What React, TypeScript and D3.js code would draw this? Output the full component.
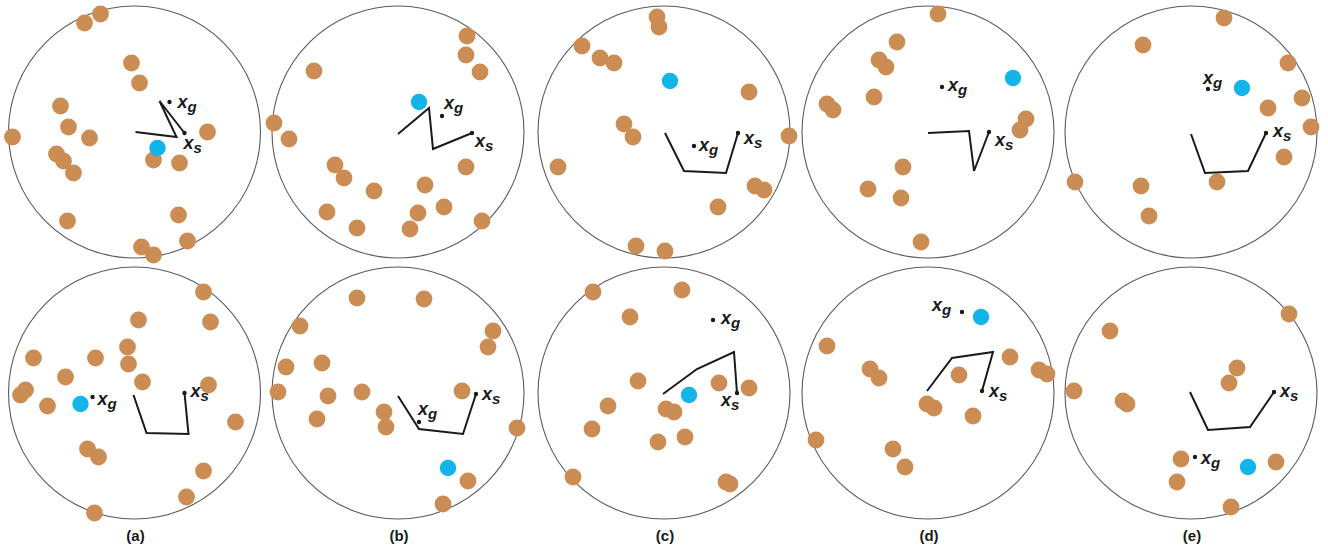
import React from "react";
import * as d3 from "d3";

// Workspace units: circle radius = 126, origin at circle centre, y up.
const panelNames = ["(a)", "(b)", "(c)", "(d)", "(e)"];

// Order: top row a..e, then bottom row a..e
const obstacles: [number, number][][] = [
  [[-34,118],[-50,109],[-3,69],[5,49],[-74,26],[-66,5],[-45,-6],[-122,-5],[-78,-22],[-71,-29],[-61,-41],[73,0],[19,-28],[45,-31],[-67,-89],[44,-83],[53,-109],[7,-115],[19,-123]],
  [[69,96],[68,77],[82,60],[-84,61],[-124,9],[-109,-7],[-63,-33],[-54,-46],[-24,-59],[-71,-80],[-41,-96],[27,-53],[68,-35],[20,-81],[46,-75],[12,-97],[84,-89]],
  [[-7,115],[-5,105],[-82,86],[-64,74],[-50,69],[85,40],[-40,8],[-31,-5],[125,-4],[-106,-35],[91,-54],[100,-58],[54,-75],[-28,-114],[1,-119]],
  [[10,118],[-31,90],[-49,72],[-42,65],[-54,35],[-101,28],[-95,22],[98,13],[92,2],[-25,-35],[-60,-57],[-27,-66],[-7,-110]],
  [[33,114],[-48,87],[97,69],[111,34],[77,24],[120,5],[93,-25],[26,-50],[-116,-50],[-50,-54],[-42,-84]],
  [[69,101],[76,71],[4,73],[-7,46],[-6,29],[-39,35],[-101,35],[-69,16],[8,11],[-109,3],[-114,-2],[-87,-13],[74,8],[101,-29],[-47,-56],[-36,-64],[69,-78],[52,-104],[-40,-120]],
  [[-41,95],[26,94],[-98,67],[95,62],[90,46],[-112,26],[-76,30],[-120,1],[-70,-3],[-36,1],[64,2],[-81,-26],[-14,-19],[-12,-34],[119,-35],[70,-88],[45,-111]],
  [[-71,101],[18,103],[-34,76],[-26,12],[55,10],[85,5],[-56,-13],[2,-16],[10,-19],[-72,-36],[-6,-49],[21,-44],[-91,-84],[62,-89],[66,-91]],
  [[-101,47],[-58,24],[-49,15],[31,18],[82,36],[111,23],[119,19],[-1,-11],[6,-15],[45,-23],[-112,-47],[-35,-56],[-23,-74]],
  [[98,79],[-81,62],[46,25],[38,10],[-117,2],[-68,-8],[-64,-11],[-10,-66],[-14,-89],[85,-69],[40,-114]],
];

const goals: [number, number][] = [
  [23,-16],[21,30],[6,51],[85,54],[51,44],
  [-54,-11],[50,-75],[25,-2],[53,76],[57,-74],
];

// Arm configurations: base -> joint1 -> joint2 -> end effector (x_s)
const arms: [number, number][][] = [
  [[1,0],[42,-5],[25,31],[50,-1]],
  [[0,-2],[31,24],[35,-17],[74,-1]],
  [[1,-1],[20,-39],[62,-41],[74,-1]],
  [[0,-1],[41,1],[46,-39],[61,0]],
  [[0,-2],[14,-41],[57,-39],[75,-1]],
  [[-1,-2],[12,-40],[54,-41],[50,0]],
  [[0,-3],[21,-36],[65,-41],[78,-1]],
  [[-1,-1],[33,24],[70,41],[73,0]],
  [[-1,2],[24,35],[65,41],[54,2]],
  [[-1,1],[17,-37],[59,-34],[83,1]],
];

const targets: [number, number][] = [
  [35,30],[44,16],[30,-14],[14,45],[17,43],
  [-42,-4],[21,-29],[49,73],[34,81],[4,-64],
];

// label placement (pixel offsets from the marker dot)
const xgLabelOffset: [number, number][] = [
  [8,6],[2,-7],[5,5],[6,4],[-5,-5],
  [5,8],[-1,-7],[8,4],[-30,-1],[6,7],
];
const xsLabelOffset: [number, number][] = [
  [-1,16],[3,14],[6,11],[6,14],[7,4],
  [6,4],[6,6],[-16,13],[7,6],[6,5],
];

const colCx = [134.5, 398, 664, 928, 1191];
const rowCy = [132, 393];
const R = 126;

const BROWN = "#CB8D53";
const BLUE = "#12B4EA";
const FONT = "'Liberation Sans', Arial, Helvetica, sans-serif";

function Label({ x, y, sub }: { x: number; y: number; sub: string }) {
  return (
    <text x={x} y={y} fontFamily={FONT} fontWeight="bold" fontStyle="italic" fontSize={18} fill="#1a1a1a">
      x<tspan fontSize={15} dy={4}>{sub}</tspan>
    </text>
  );
}

export default function App() {
  const panels = d3.range(10).map((i) => {
    const col = i % 5;
    const row = Math.floor(i / 5);
    const cx = colCx[col];
    const cy = rowCy[row];
    const xs = d3.scaleLinear().domain([-R, R]).range([cx - R, cx + R]);
    const ys = d3.scaleLinear().domain([-R, R]).range([cy + R, cy - R]);
    const line = d3.line<[number, number]>().x((d) => xs(d[0])).y((d) => ys(d[1]));
    const arm = arms[i];
    const end = arm[arm.length - 1];
    const tg = targets[i];
    const ex = xs(end[0]), ey = ys(end[1]);
    const tx = xs(tg[0]), ty = ys(tg[1]);
    return (
      <g key={i}>
        <circle cx={xs(0)} cy={ys(0)} r={xs(R) - xs(0)} fill="none" stroke="#5a5a5a" strokeWidth={1.1} />
        {obstacles[i].map((p, j) => (
          <circle key={j} cx={xs(p[0])} cy={ys(p[1])} r={8.4} fill={BROWN} />
        ))}
        <circle cx={xs(goals[i][0])} cy={ys(goals[i][1])} r={8.2} fill={BLUE} />
        <path d={line(arm) || ""} fill="none" stroke="#1a1a1a" strokeWidth={2} strokeLinejoin="miter" />
        <circle cx={ex} cy={ey} r={2.2} fill="#1a1a1a" />
        <circle cx={tx} cy={ty} r={2.2} fill="#1a1a1a" />
        <Label x={tx + xgLabelOffset[i][0]} y={ty + xgLabelOffset[i][1]} sub="g" />
        <Label x={ex + xsLabelOffset[i][0]} y={ey + xsLabelOffset[i][1]} sub="s" />
      </g>
    );
  });

  return (
    <svg width={1328} height={548} style={{ position: "absolute", left: 0, top: 0, background: "#fff" }}>
      <rect width={1328} height={548} fill="#fff" />
      {panels}
      {panelNames.map((n, k) => (
        <text key={n} x={colCx[k] + 1} y={541} textAnchor="middle" fontFamily={FONT} fontWeight="bold" fontSize={15} fill="#1a1a1a">
          {n}
        </text>
      ))}
    </svg>
  );
}
